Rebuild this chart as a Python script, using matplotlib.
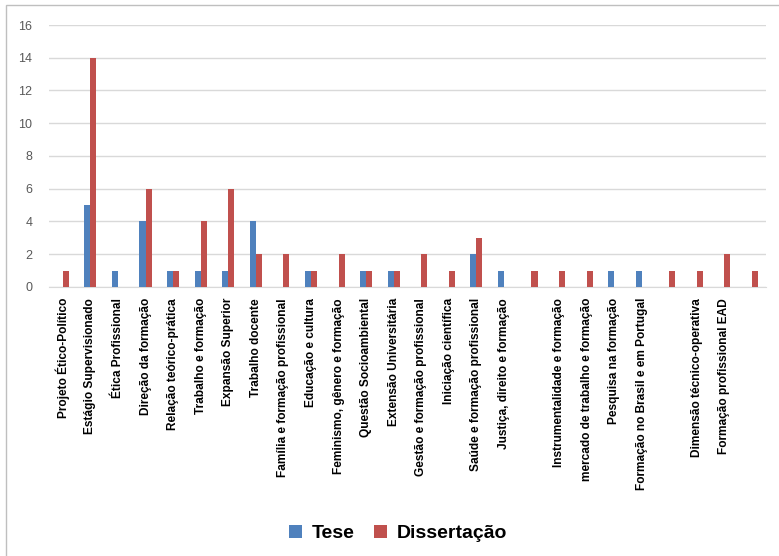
import numpy as np
import matplotlib
matplotlib.use("Agg")
import matplotlib.pyplot as plt
from matplotlib.patches import Rectangle

categorias = [
    "Projeto Ético-Político", "Estágio Supervisionado", "Ética Profissional",
    "Direção da formação", "Relação teórico-prática", "Trabalho e formação",
    "Expansão Superior", "Trabalho docente", "Família e formação profissional",
    "Educação e cultura", "Feminismo, gênero e formação", "Questão Socioambiental",
    "Extensão Universitária", "Gestão e formação profissional", "Iniciação científica",
    "Saúde e formação profissional", "Justiça, direito e formação", "",
    "Instrumentalidade e formação", "mercado de trabalho e formação",
    "Pesquisa na formação", "Formação no Brasil e em Portugal", "",
    "Dimensão técnico-operativa", "Formação profissional EAD", "",
]
tese = [0, 5, 1, 4, 1, 1, 1, 4, 0, 1, 0, 1, 1, 0, 0, 2, 1, 0, 0, 0, 1, 1, 0, 0, 0, 0]
dissertacao = [1, 14, 0, 6, 1, 4, 6, 2, 2, 1, 2, 1, 1, 2, 1, 3, 0, 1, 1, 1, 0, 0, 1, 1, 2, 1]

azul = "#4F81BD"
vermelho = "#C0504D"
cinza = "#595959"

plt.rcParams["font.family"] = ["Liberation Sans", "DejaVu Sans"]

fig = plt.figure(figsize=(7.79, 5.56), dpi=100)
ax = fig.add_axes([0.063, 0.484, 0.92, 0.471])

x = np.arange(len(categorias))
w = 0.22
ax.bar(x - w / 2, tese, w, color=azul, label="Tese", zorder=3)
ax.bar(x + w / 2, dissertacao, w, color=vermelho, label="Dissertação", zorder=3)

ax.set_xlim(-0.5, len(categorias) - 0.5)
ax.set_ylim(0, 16)
ax.set_yticks(range(0, 17, 2))
ax.yaxis.grid(True, color="#D9D9D9", linewidth=1, zorder=0)
ax.set_axisbelow(True)
for s in ["top", "right", "left"]:
    ax.spines[s].set_visible(False)
ax.spines["bottom"].set_color("#D9D9D9")
ax.tick_params(axis="y", length=0, labelsize=9, labelcolor=cinza, pad=12)
ax.tick_params(axis="x", length=0, pad=8)
ax.set_xticks(x)
ax.set_xticklabels(categorias, rotation=90, fontsize=8.6, fontweight="bold",
                   va="top", ha="center")

fig.legend(loc="center", bbox_to_anchor=(0.511, 0.04), ncol=2, frameon=False,
           prop={"size": 14, "weight": "bold"}, handlelength=0.65,
           handleheight=0.65, columnspacing=1.0, handletextpad=0.5)

# moldura do gráfico
fig.patches.append(Rectangle((6 / 779, -0.01), 1.0, 0.9995 - 5 / 556 + 0.01,
                             transform=fig.transFigure, fill=False,
                             edgecolor="#BFBFBF", linewidth=1))

fig.savefig("out.png", dpi=100)
